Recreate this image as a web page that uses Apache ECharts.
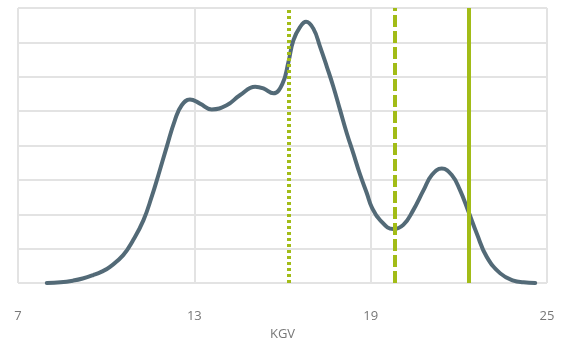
<!DOCTYPE html>
<html><head><meta charset="utf-8">
<script src="https://cdn.jsdelivr.net/npm/echarts@6/dist/echarts.min.js"></script>
<style>html,body{margin:0;padding:0;background:#fff}#c{width:562px;height:338px}</style>
</head><body><div id="c"></div>
<script>
const xValues = [7.98, 8.45, 8.88, 9.2, 9.56, 9.85, 10.13, 10.58, 10.92, 11.27, 11.55, 11.78, 12.06, 12.34, 12.57, 12.85, 13.19, 13.59, 14.1, 14.56, 15.07, 15.35, 15.69, 16.0, 16.2, 16.37, 16.6, 16.8, 17.05, 17.28, 17.51, 17.73, 17.96, 18.19, 18.41, 18.64, 18.87, 19.04, 19.32, 19.77, 20.11, 20.45, 20.8, 21.08, 21.42, 21.76, 22.04, 22.33, 22.61, 22.95, 23.41, 23.86, 24.2, 24.6];
const densityValues = [0.0, 0.02, 0.07, 0.13, 0.23, 0.33, 0.47, 0.81, 1.25, 1.83, 2.51, 3.15, 3.96, 4.74, 5.17, 5.34, 5.22, 5.05, 5.17, 5.47, 5.71, 5.66, 5.52, 5.8, 6.42, 7.06, 7.45, 7.6, 7.4, 6.87, 6.29, 5.71, 5.03, 4.35, 3.77, 3.15, 2.61, 2.2, 1.83, 1.57, 1.69, 2.12, 2.7, 3.14, 3.33, 3.14, 2.7, 2.07, 1.44, 0.76, 0.28, 0.07, 0.02, 0.0];
const xTicks = [7, 13, 19, 25];
const markerValues = [16.2, 19.82, 22.33];
const markerTypes = [[3, 3], [12, 4], 'solid'];

const curve = xValues.map((x, i) => [x, densityValues[i]]);
const green = '#a2bc17';
const font = 'Liberation Sans Narrow, Open Sans, sans-serif';
const chart = echarts.init(document.getElementById('c'));
chart.setOption({
  animation: false,
  grid: {left: 18, right: 15, top: 8, bottom: 55, containLabel: false, outerBoundsMode: 'none'},
  xAxis: {
    type: 'value', min: xTicks[0], max: xTicks[xTicks.length - 1], interval: 6,
    name: 'KGV', nameLocation: 'middle', nameGap: 40,
    nameTextStyle: {color: '#777', fontSize: 13, fontFamily: font},
    axisLine: {show: false}, axisTick: {show: false},
    axisLabel: {color: '#777', fontSize: 13, margin: 27, fontFamily: font},
    splitLine: {show: true, lineStyle: {color: '#e3e3e3', width: 2}}
  },
  yAxis: {
    type: 'value', min: 0, max: 8, interval: 1,
    axisLine: {show: false}, axisTick: {show: false}, axisLabel: {show: false},
    splitLine: {show: true, lineStyle: {color: '#e3e3e3', width: 2}}
  },
  series: [
    {
      type: 'line', data: [], silent: true,
      markLine: {
        silent: true, symbol: 'none', label: {show: false},
        data: markerValues.map((v, i) => ({xAxis: v, lineStyle: {color: green, width: 4, type: markerTypes[i]}}))
      }
    },
    {
      type: 'line', data: curve, smooth: 0.45, showSymbol: false,
      lineStyle: {color: '#536a77', width: 4, cap: 'round', join: 'round'}, z: 3
    }
  ]
});
</script></body></html>
